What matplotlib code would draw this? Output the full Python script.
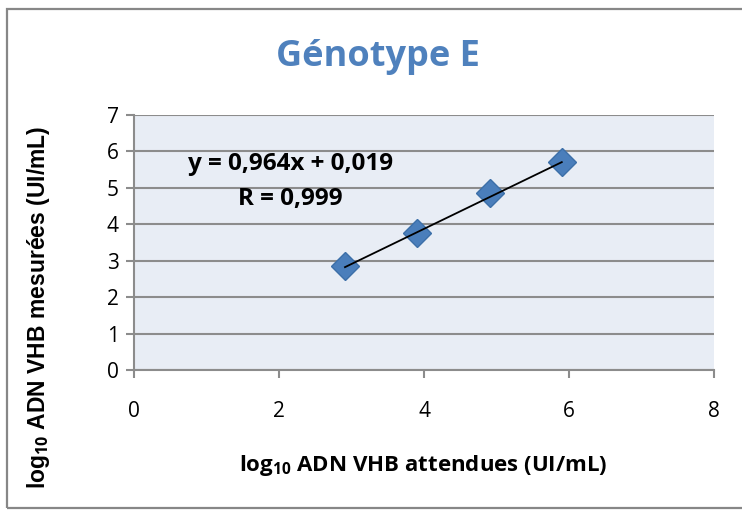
import numpy as np
import matplotlib
matplotlib.use('Agg')
import matplotlib.pyplot as plt
from matplotlib.patches import Rectangle

# expected vs measured log10 HBV DNA, genotype E
attendues = [2.91, 3.90, 4.91, 5.90]
mesurees = [2.85, 3.76, 4.86, 5.71]

# trendline as printed on the chart
pente = 0.964
ordonnee = 0.019
r_val = 0.999

x_ticks = [0, 2, 4, 6, 8]
y_ticks = [0, 1, 2, 3, 4, 5, 6, 7]

title_color = '#4F81BD'
marker_color = '#4A7EBB'
grid_color = '#8C8C8C'

plt.rcParams['font.family'] = ['Open Sans', 'DejaVu Sans']
plt.rcParams['mathtext.fontset'] = 'custom'
plt.rcParams['mathtext.rm'] = 'Open Sans'
plt.rcParams['mathtext.bf'] = 'Open Sans:bold'


def fr_num(v, nd=3):
    """French decimal comma."""
    return '{:.{}f}'.format(v, nd).replace('.', ',')


fig = plt.figure(figsize=(7.42, 5.16), dpi=100)
fig.patches.append(Rectangle((0.0095, 0.0155), 1.2, 0.967, transform=fig.transFigure,
                             fill=False, edgecolor='#878787', linewidth=1.6))

ax = fig.add_axes([0.1806, 0.2829, 0.7817, 0.4942])
ax.set_facecolor('#E8EDF5')

ax.plot(attendues, mesurees, linestyle='', marker='D', markersize=14,
        color=marker_color, markeredgecolor='#3C6FA8', markeredgewidth=1, zorder=3)

xs = np.array([min(attendues), max(attendues)])
ax.plot(xs, pente * xs + ordonnee, color='black', linewidth=1.3, zorder=4)

ax.set_xlim(0, 8)
ax.set_ylim(0, 7)
ax.set_xticks(x_ticks)
ax.set_yticks(y_ticks)
ax.yaxis.grid(True, color=grid_color, linewidth=1.5)
ax.set_axisbelow(True)
for side in ['top', 'right']:
    ax.spines[side].set_visible(False)
for side in ['left', 'bottom']:
    ax.spines[side].set_color(grid_color)
    ax.spines[side].set_linewidth(1.5)
ax.tick_params(axis='both', colors=grid_color, width=1.5, length=6,
               labelcolor='black', labelsize=15)
ax.tick_params(axis='x', pad=16)
ax.tick_params(axis='y', pad=5)

fig.text(0.509, 0.889, 'Génotype E', ha='center', va='center',
         fontsize=26, fontweight='bold', color=title_color)

ax.text(2.16, 5.65, 'y = {}x + {}'.format(fr_num(pente), fr_num(ordonnee)),
        ha='center', va='center', fontsize=17.5, fontweight='bold')
ax.text(2.16, 4.70, 'R = {}'.format(fr_num(r_val)),
        ha='center', va='center', fontsize=17.5, fontweight='bold')

fig.text(0.570, 0.097, r'log$_\mathbf{10}$ ADN VHB attendues (UI/mL)',
         ha='center', va='center', fontsize=16, fontweight='bold')
fig.text(0.052, 0.405, r'log$_\mathbf{10}$ ADN VHB mesurées (UI/mL)',
         ha='center', va='center', rotation=90, fontsize=16.5, fontweight='bold',
         family=['Liberation Sans', 'DejaVu Sans'])

fig.savefig('out.png', dpi=100)
